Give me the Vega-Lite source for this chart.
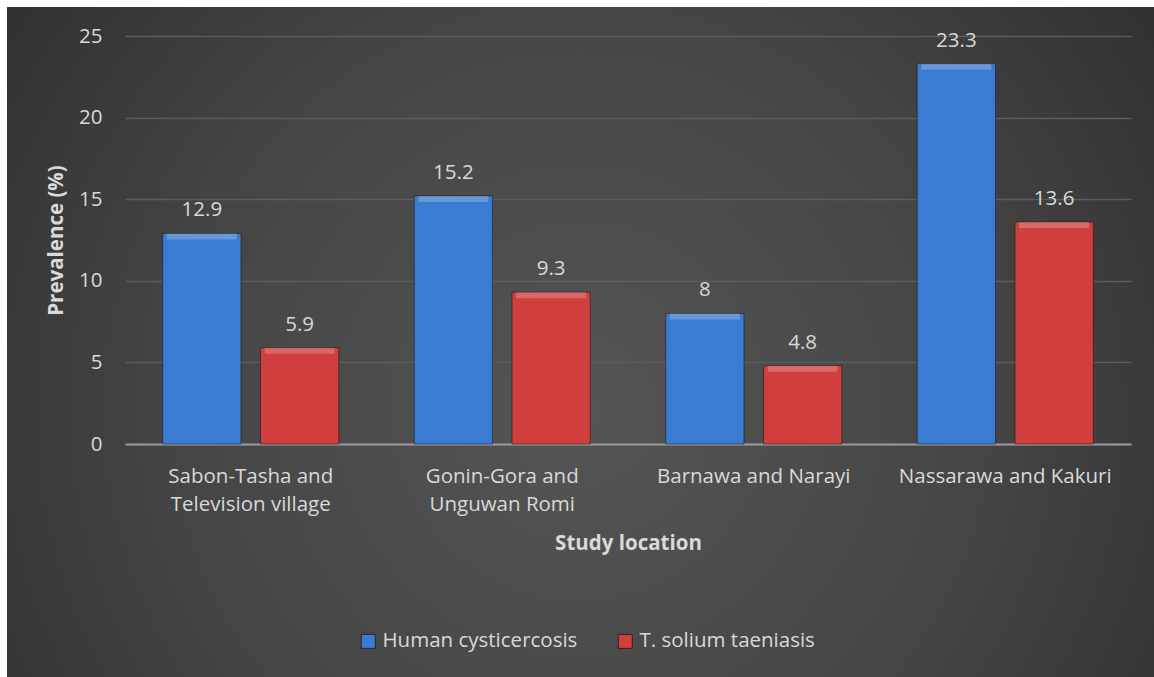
{
  "$schema": "https://vega.github.io/schema/vega-lite/v6.json",
  "width": 1147,
  "height": 670,
  "autosize": {"type": "none"},
  "padding": {"left": 7, "top": 7, "right": 0, "bottom": 0},
  "background": "white",
  "config": {
    "font": "Open Sans",
    "view": {
      "stroke": null,
      "fill": {
        "gradient": "radial",
        "x1": 0.5, "y1": 0.56, "r1": 0,
        "x2": 0.5, "y2": 0.56, "r2": 0.78,
        "stops": [
          {"offset": 0, "color": "#555555"},
          {"offset": 0.45, "color": "#454545"},
          {"offset": 1, "color": "#242424"}
        ]
      }
    }
  },
  "data": {
    "values": [
      {"location": "Sabon-Tasha and Television village", "series": "Human cysticercosis", "value": 12.9},
      {"location": "Sabon-Tasha and Television village", "series": "T. solium taeniasis", "value": 5.9},
      {"location": "Gonin-Gora and Unguwan Romi", "series": "Human cysticercosis", "value": 15.2},
      {"location": "Gonin-Gora and Unguwan Romi", "series": "T. solium taeniasis", "value": 9.3},
      {"location": "Barnawa and Narayi", "series": "Human cysticercosis", "value": 8},
      {"location": "Barnawa and Narayi", "series": "T. solium taeniasis", "value": 4.8},
      {"location": "Nassarawa and Kakuri", "series": "Human cysticercosis", "value": 23.3},
      {"location": "Nassarawa and Kakuri", "series": "T. solium taeniasis", "value": 13.6}
    ]
  },
  "encoding": {
    "x": {
      "field": "location",
      "type": "nominal",
      "sort": null,
      "scale": {"range": [118, 1124], "paddingInner": 0.3, "paddingOuter": 0.15},
      "axis": {
        "title": "Study location",
        "offset": -233,
        "domain": true,
        "domainColor": "#9a9a9a",
        "domainWidth": 2,
        "ticks": false,
        "grid": false,
        "labelAngle": 0,
        "labelPadding": 22,
        "labelFontSize": 20.5,
        "labelColor": "#d9d9d9",
        "labelLimit": 0,
        "labelLineHeight": 28,
        "labelBaseline": "top",
        "labelExpr": "length(datum.label) > 22 ? [slice(datum.label, 0, indexof(datum.label, ' and ') + 4), slice(datum.label, indexof(datum.label, ' and ') + 5)] : datum.label",
        "titleFontSize": 20.5,
        "titleFontWeight": "bold",
        "titleColor": "#d9d9d9",
        "titleBaseline": "alphabetic",
        "titleY": 105
      }
    },
    "xOffset": {
      "field": "series",
      "type": "nominal",
      "scale": {"paddingInner": 0.2}
    },
    "y": {
      "field": "value",
      "type": "quantitative",
      "scale": {"domain": [0, 25], "range": [437, 29], "nice": false, "zero": true},
      "axis": {
        "title": "Prevalence (%)",
        "offset": -118,
        "values": [0, 5, 10, 15, 20, 25],
        "domain": false,
        "ticks": false,
        "grid": true,
        "gridColor": "#5c5c5c",
        "gridWidth": 1.3,
        "labelPadding": 23,
        "labelFontSize": 20.5,
        "labelColor": "#d9d9d9",
        "titleFontSize": 20.5,
        "titleFontWeight": "bold",
        "titleColor": "#d9d9d9",
        "titleAngle": -90,
        "titleBaseline": "alphabetic",
        "titleAlign": "center",
        "titleX": -63,
        "titleY": 233
      }
    }
  },
  "layer": [
    {
      "mark": {"type": "bar", "stroke": "#111111", "strokeOpacity": 0.5, "strokeWidth": 1},
      "encoding": {
        "color": {
          "field": "series",
          "type": "nominal",
          "scale": {
            "domain": ["Human cysticercosis", "T. solium taeniasis"],
            "range": ["#3b7cd3", "#d03e3e"]
          },
          "legend": {
            "title": null,
            "orient": "none",
            "direction": "horizontal",
            "legendX": 351,
            "legendY": 624,
            "symbolType": "square",
            "symbolSize": 196,
            "symbolStrokeColor": "#1a1a1a",
            "symbolStrokeWidth": 0.8,
            "labelFontSize": 20.5,
            "labelColor": "#d9d9d9",
            "labelOffset": 4,
            "labelLimit": 0,
            "columnPadding": 37
          }
        }
      }
    },
    {
      "mark": {"type": "tick", "color": "white", "opacity": 0.22, "thickness": 6, "yOffset": 3, "size": 70},
      "encoding": {}
    },
    {
      "mark": {"type": "text", "baseline": "alphabetic", "dy": -17, "fontSize": 20.5, "fill": "#d9d9d9"},
      "encoding": {
        "text": {"field": "value", "type": "quantitative"}
      }
    }
  ]
}
